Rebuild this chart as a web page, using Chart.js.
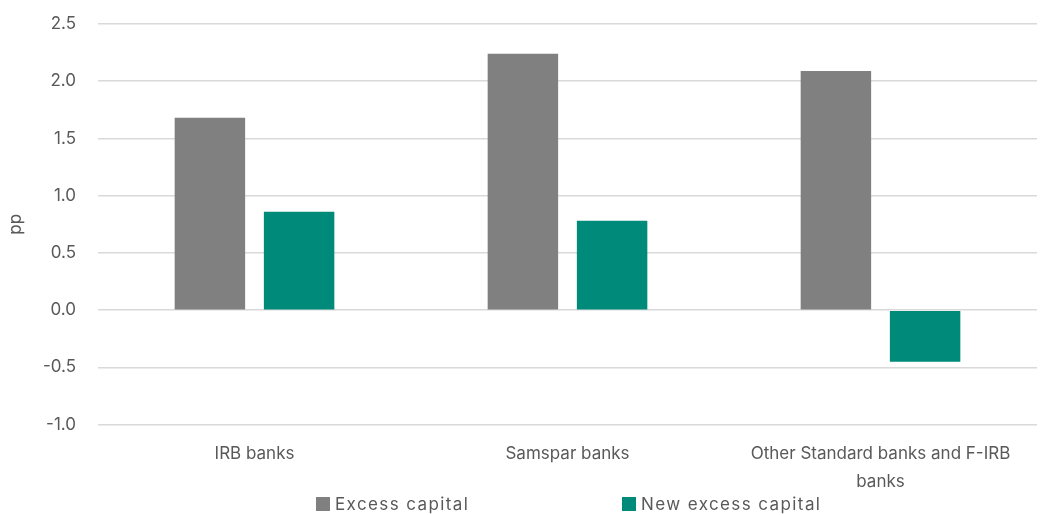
<!DOCTYPE html>
<html>
<head>
<meta charset="utf-8">
<script src="https://cdn.jsdelivr.net/npm/chart.js@4.4.0/dist/chart.umd.min.js"></script>
<style>
  body { margin: 0; background: #fff; }
  #wrap { position: relative; width: 1048px; height: 515px; }
  .legend { position: absolute; top: 494px; left: 0; width: 1048px; font-family: Inter, sans-serif; font-size: 17px; letter-spacing: 1.4px; color: #595959; }
  .legend span.item { position: absolute; white-space: nowrap; }
  .legend i { display: inline-block; width: 14px; height: 14px; margin-right: 5px; vertical-align: -1px; }
</style>
</head>
<body>
<div id="wrap">
  <canvas id="barChart" width="1048" height="515"></canvas>
  <div class="legend">
    <span class="item" style="left:316px"><i style="background:#808080"></i>Excess capital</span>
    <span class="item" style="left:622px"><i style="background:#008a7a"></i>New excess capital</span>
  </div>
</div>
<script>
const categories = ['IRB banks', 'Samspar banks', ['Other Standard banks and F-IRB', 'banks']];
const excessCapital = [1.68, 2.24, 2.09];
const newExcessCapital = [0.86, 0.78, -0.45];
const yTicks = { min: -1.0, max: 2.5, step: 0.5 };

const textColor = '#595959';
const font = { family: 'Inter, sans-serif', size: 17 };

const ctx = document.getElementById('barChart').getContext('2d');
const barChart = new Chart(ctx, {
  type: 'bar',
  data: {
    labels: categories,
    datasets: [{
      label: 'Excess capital',
      data: excessCapital,
      backgroundColor: '#808080',
      categoryPercentage: 0.57,
      barPercentage: 0.79
    }, {
      label: 'New excess capital',
      data: newExcessCapital,
      backgroundColor: '#008a7a',
      categoryPercentage: 0.57,
      barPercentage: 0.79
    }]
  },
  options: {
    responsive: false,
    animation: false,
    layout: { padding: { left: 6, right: 11, top: 24, bottom: 12 } },
    plugins: { legend: { display: false }, tooltip: { enabled: false } },
    scales: {
      x: {
        grid: { display: false },
        border: { display: false },
        ticks: { color: textColor, font: { ...font, lineHeight: 1.6 }, padding: 8, maxRotation: 0, autoSkip: false }
      },
      y: {
        min: yTicks.min,
        max: yTicks.max,
        border: { display: false },
        grid: { color: '#d9d9d9', lineWidth: 1.5, drawTicks: false },
        ticks: {
          stepSize: yTicks.step,
          color: textColor,
          font: font,
          padding: 22,
          callback: v => v.toFixed(1)
        },
        title: { display: true, text: 'pp', color: textColor, font: font, padding: { top: 0, bottom: 4 } },
        afterFit: scale => { scale.width = 92; scale.paddingTop = 0; }
      }
    }
  }
});
</script>
</body>
</html>
